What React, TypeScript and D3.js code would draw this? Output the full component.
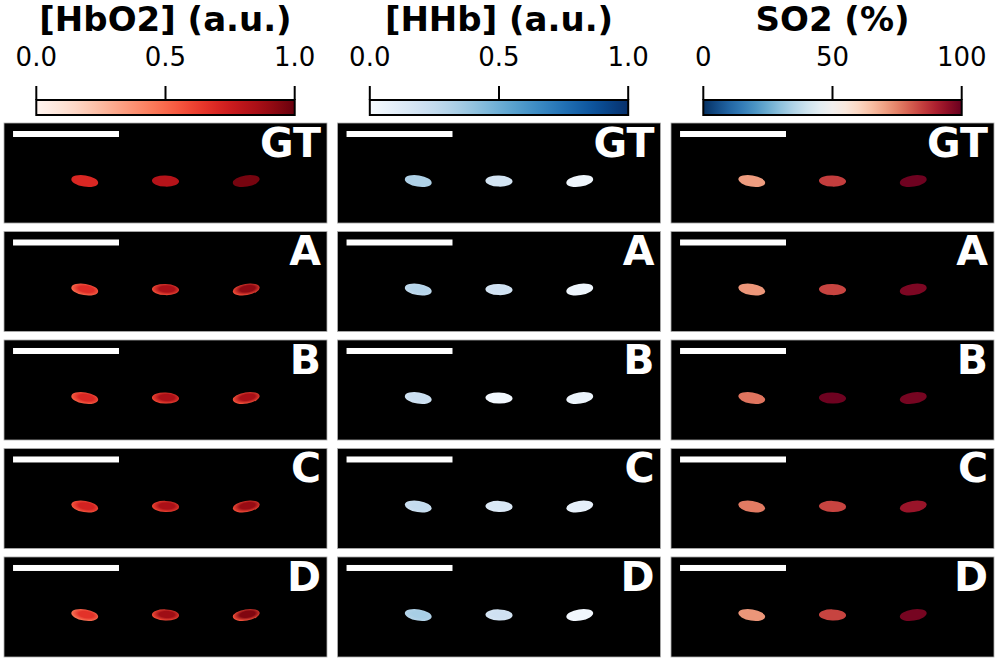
import React from "react";
import * as d3 from "d3";

// rows of the figure: ground truth + four reconstructions
const rows = ["GT", "A", "B", "C", "D"];

// colorbar columns
const columns = ["[HbO2] (a.u.)", "[HHb] (a.u.)", "SO2 (%)"];
const tickLabels = [
  ["0.0", "0.5", "1.0"],
  ["0.0", "0.5", "1.0"],
  ["0", "50", "100"],
];
const domains: [number, number][] = [
  [0, 1],
  [0, 1],
  [0, 100],
];

// vessel positions (fraction of image), three vessels per image
const vesselX = [0.25, 0.5, 0.75];
const vesselY = [0.58, 0.58, 0.58];
const vesselTilt = [9, 2, -9];

// [HbO2] per row: core value and rim value of each vessel
const hbo2Core = [
  [0.7, 0.82, 0.97],
  [0.68, 0.85, 0.92],
  [0.7, 0.85, 0.86],
  [0.72, 0.85, 0.9],
  [0.66, 0.88, 0.95],
];
const hbo2Rim = [
  [0.7, 0.82, 0.97],
  [0.5, 0.58, 0.58],
  [0.53, 0.6, 0.56],
  [0.55, 0.6, 0.58],
  [0.46, 0.58, 0.56],
];

// [HHb] per row
const hhbCore = [
  [0.32, 0.18, 0.04],
  [0.3, 0.2, 0.05],
  [0.22, 0.03, 0.06],
  [0.25, 0.15, 0.09],
  [0.34, 0.2, 0.03],
];
const hhbRim = [
  [0.32, 0.18, 0.04],
  [0.26, 0.17, 0.04],
  [0.19, 0.02, 0.05],
  [0.22, 0.13, 0.07],
  [0.3, 0.17, 0.02],
];

// SO2 (%) per row
const so2Values = [
  [71, 85, 99],
  [72, 84, 97],
  [77, 99, 98],
  [76, 84, 93],
  [72, 84, 98],
];

const W = 996;
const H = 662;
const font = "DejaVu Sans";

const interpolators = [
  d3.interpolateReds,
  d3.interpolateBlues,
  (t: number) => d3.interpolateRdBu(1 - t),
];

function Colorbar({ col, x0, x1 }: { col: number; x0: number; x1: number }) {
  const scale = d3.scaleLinear().domain(domains[col]).range([x0, x1]);
  const ticks = d3.range(3).map(i => domains[col][0] + (i * (domains[col][1] - domains[col][0])) / 2);
  const id = `cb${col}`;
  const barTop = 100;
  const barBottom = 115;
  return (
    <g>
      <defs>
        <linearGradient id={id} x1="0" x2="1" y1="0" y2="0">
          {d3.range(0, 1.0001, 0.05).map(t => (
            <stop key={t} offset={t} stopColor={interpolators[col](t)} />
          ))}
        </linearGradient>
      </defs>
      <text
        x={(x0 + x1) / 2}
        y={31}
        textAnchor="middle"
        fontFamily={font}
        fontWeight="bold"
        fontSize={34}
      >
        {columns[col]}
      </text>
      {ticks.map((t, i) => (
        <g key={i}>
          <line x1={scale(t)} x2={scale(t)} y1={86} y2={barTop} stroke="#000" strokeWidth={2} />
          <text x={scale(t)} y={66} textAnchor="middle" fontFamily={font} fontSize={26}>
            {tickLabels[col][i]}
          </text>
        </g>
      ))}
      <rect
        x={x0}
        y={barTop}
        width={x1 - x0}
        height={barBottom - barTop}
        fill={`url(#${id})`}
        stroke="#000"
        strokeWidth={2}
      />
    </g>
  );
}

export default function App() {
  const xBand = d3.scaleBand<number>().domain([0, 1, 2]).range([4, 994]).paddingInner(0.0315);
  const yBand = d3.scaleBand<string>().domain(rows).range([123, 657]).paddingInner(0.078);
  const pw = xBand.bandwidth();
  const ph = yBand.bandwidth();

  const colors = (col: number, r: number, v: number) => {
    if (col === 0) return [interpolators[0](hbo2Core[r][v]), interpolators[0](hbo2Rim[r][v])];
    if (col === 1) return [interpolators[1](hhbCore[r][v]), interpolators[1](hhbRim[r][v])];
    const c = interpolators[2](so2Values[r][v] / 100);
    return [c, c];
  };

  return (
    <svg width={W} height={H} style={{ position: "absolute", left: 0, top: 0, background: "#fff" }}>
      {[0, 1, 2].map(col => (
        <Colorbar key={col} col={col} x0={xBand(col)! + pw * 0.1} x1={xBand(col)! + pw * 0.9} />
      ))}
      {[0, 1, 2].map(col =>
        rows.map((row, r) => {
          const px = xBand(col)!;
          const py = yBand(row)!;
          const ix = d3.scaleLinear().domain([0, 1]).range([0, pw]);
          const iy = d3.scaleLinear().domain([0, 1]).range([0, ph]);
          return (
            <g key={`${col}-${row}`} transform={`translate(${px},${py})`}>
              <defs>
                {vesselX.map((_, v) => {
                  const [core, rim] = colors(col, r, v);
                  return (
                    <radialGradient key={v} id={`g${col}${r}${v}`} cx="0.55" cy="0.45" r="0.55">
                      <stop offset="0" stopColor={core} />
                      <stop offset="0.5" stopColor={core} />
                      <stop offset="1" stopColor={rim} />
                    </radialGradient>
                  );
                })}
              </defs>
              <rect width={pw} height={ph} fill="#000" stroke="#b0b0b0" strokeWidth={0.8} />
              <rect x={ix(0.028)} y={iy(0.08)} width={ix(0.328)} height={iy(0.06)} fill="#fff" />
              <text
                x={pw - 6}
                y={34}
                textAnchor="end"
                fontFamily={font}
                fontWeight="bold"
                fontSize={41}
                fill="#fff"
              >
                {row}
              </text>
              {vesselX.map((vx, v) => (
                <ellipse
                  key={v}
                  cx={ix(vx)}
                  cy={iy(vesselY[v])}
                  rx={ix(0.042)}
                  ry={iy(0.056)}
                  transform={`rotate(${vesselTilt[v]},${ix(vx)},${iy(vesselY[v])})`}
                  fill={`url(#g${col}${r}${v})`}
                />
              ))}
            </g>
          );
        }),
      )}
    </svg>
  );
}
